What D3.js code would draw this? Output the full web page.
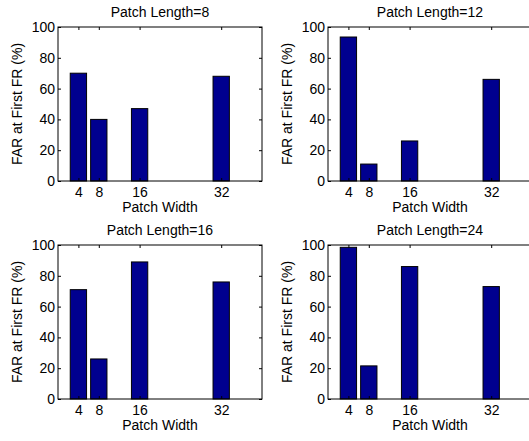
<!DOCTYPE html>
<html>
<head>
<meta charset="utf-8">
<script src="https://cdn.jsdelivr.net/npm/d3@7"></script>
<style>
    body { margin: 0; background: #fff; }
    svg { display: block; font-family: "Liberation Sans", Arial, Helvetica, sans-serif; }
</style>
</head>
<body>
<svg id="chart" width="529" height="441"></svg>
<script>
// x categories (patch width) and one series per patch length
const patchWidths = [4, 8, 16, 32];
const patchLengths = [8, 12, 16, 24];
const farLength8 = [70, 40, 47, 68];
const farLength12 = [93.5, 11, 26, 66];
const farLength16 = [71, 26, 89, 76];
const farLength24 = [98.5, 21.5, 86, 73];
const yTicks = [0, 20, 40, 60, 80, 100];

const series = [farLength8, farLength12, farLength16, farLength24];

const svg = d3.select("#chart");
const fontSize = 14;
const plotW = 204;
const plotH = 154;
const lefts = [58, 328];
const tops = [27, 245];
const barHalf = 1.6; // 0.8 * spacing of 4 / 2

series.forEach((values, i) => {
    const left = lefts[i % 2];
    const top = tops[Math.floor(i / 2)];

    const x = d3.scaleLinear().domain([0, 40]).range([left, left + plotW]);
    const y = d3.scaleLinear().domain([0, 100]).range([top + plotH, top]);

    const g = svg.append("g");

    // bars
    g.append("g")
        .selectAll("rect")
        .data(d3.zip(patchWidths, values))
        .join("rect")
        .attr("x", (d) => x(d[0] - barHalf))
        .attr("width", (d) => x(d[0] + barHalf) - x(d[0] - barHalf))
        .attr("y", (d) => y(d[1]))
        .attr("height", (d) => y(0) - y(d[1]))
        .attr("fill", "#00008f")
        .attr("stroke", "#000")
        .attr("stroke-width", 1);

    // ticks on all four sides, pointing inward
    g.append("g")
        .attr("transform", `translate(0,${top + plotH})`)
        .call(d3.axisBottom(x).tickValues(patchWidths).tickSizeInner(-3).tickSizeOuter(0).tickPadding(6));
    g.append("g")
        .attr("transform", `translate(0,${top})`)
        .call(d3.axisTop(x).tickValues(patchWidths).tickSizeInner(-3).tickSizeOuter(0).tickFormat(""));
    g.append("g")
        .attr("transform", `translate(${left},0)`)
        .call(d3.axisLeft(y).tickValues(yTicks).tickSizeInner(-3).tickSizeOuter(0).tickPadding(3));
    g.append("g")
        .attr("transform", `translate(${left + plotW},0)`)
        .call(d3.axisRight(y).tickValues(yTicks).tickSizeInner(-3).tickSizeOuter(0).tickFormat(""));

    g.selectAll(".domain").remove();
    g.selectAll(".tick line").attr("stroke", "#000");
    g.selectAll(".tick text")
        .attr("fill", "#000")
        .attr("font-size", fontSize)
        .attr("font-family", null);

    // axes box
    g.append("rect")
        .attr("x", left)
        .attr("y", top)
        .attr("width", plotW)
        .attr("height", plotH)
        .attr("fill", "none")
        .attr("stroke", "#000")
        .attr("stroke-width", 1);

    g.append("text")
        .attr("x", left + plotW / 2)
        .attr("y", top - 10)
        .attr("text-anchor", "middle")
        .attr("font-size", fontSize)
        .text("Patch Length=" + patchLengths[i]);

    g.append("text")
        .attr("x", left + plotW / 2)
        .attr("y", top + plotH + 31)
        .attr("text-anchor", "middle")
        .attr("font-size", fontSize)
        .text("Patch Width");

    g.append("text")
        .attr("transform", `translate(${left - 36.5},${top + plotH / 2}) rotate(-90)`)
        .attr("text-anchor", "middle")
        .attr("font-size", fontSize)
        .text("FAR at First FR (%)");
});
</script>
</body>
</html>
